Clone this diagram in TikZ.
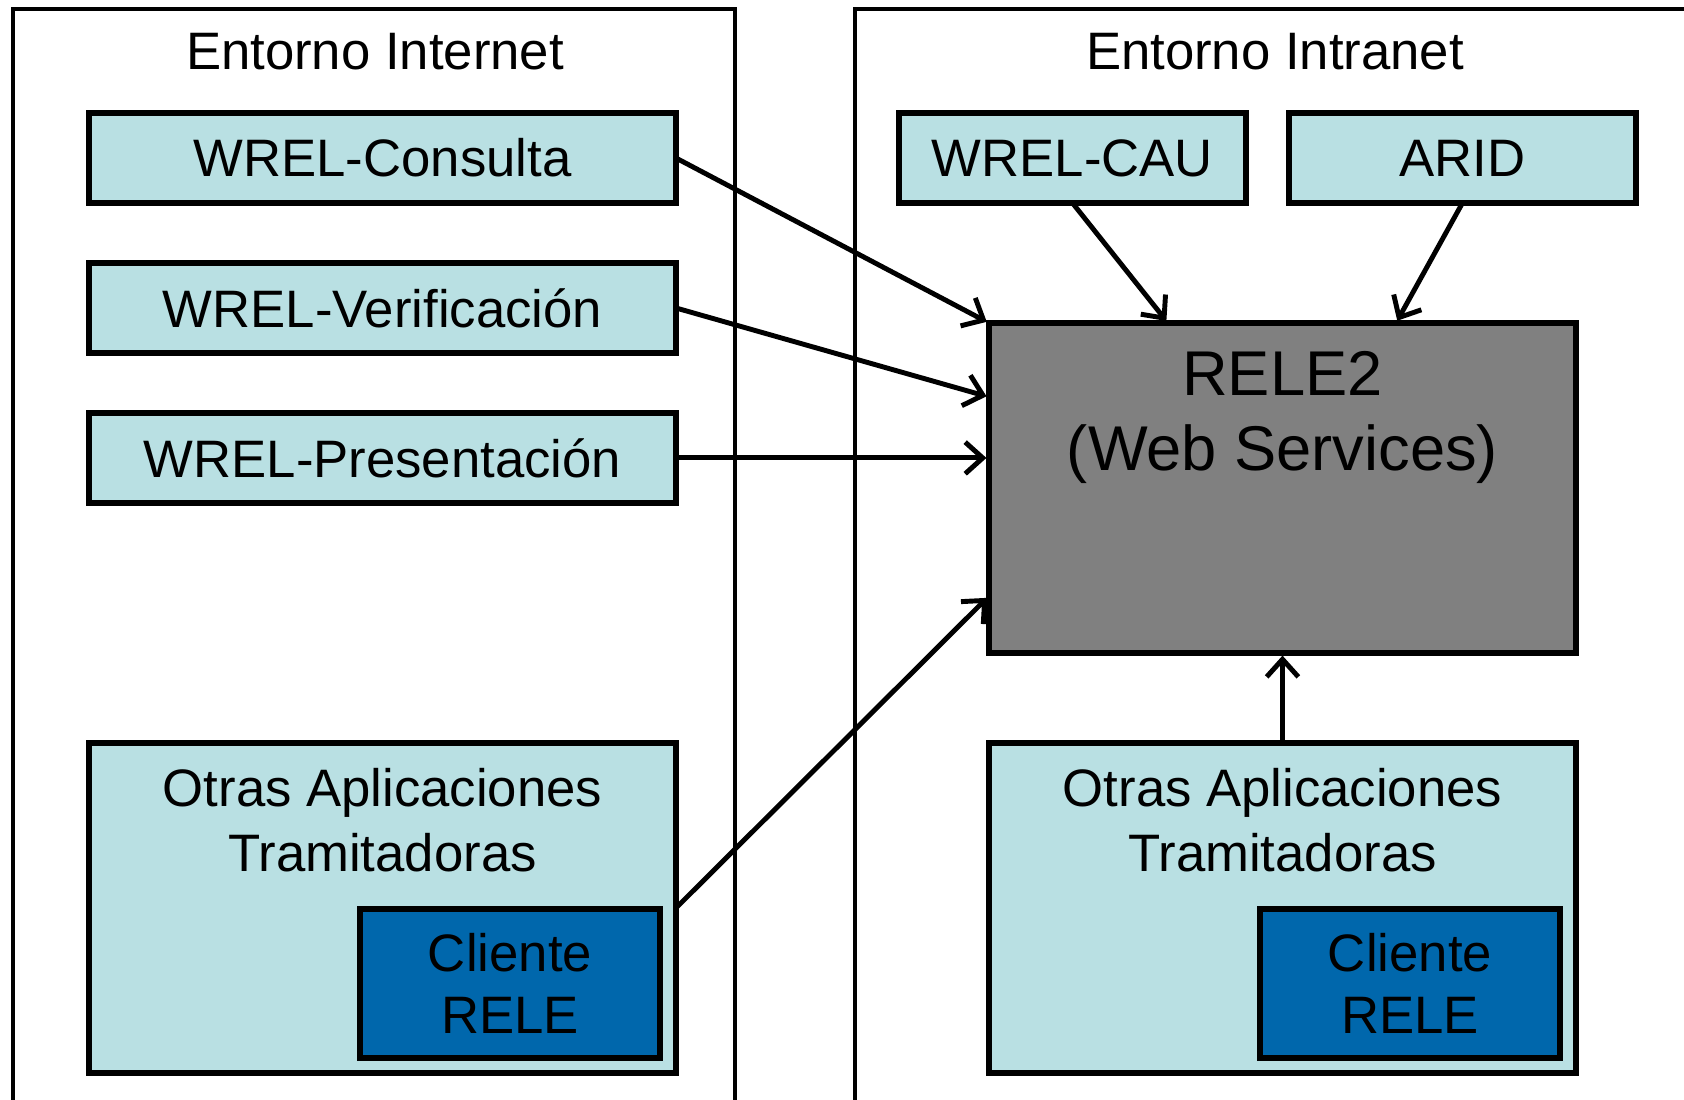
\documentclass[tikz,border=0pt]{standalone}
\usepackage{fontspec}
\setmainfont{Liberation Sans}
\usetikzlibrary{positioning}
\usetikzlibrary{arrows.meta}
\definecolor{lightblue}{RGB}{185,224,227}
\definecolor{darkblue}{RGB}{0,103,172}
\definecolor{grey}{RGB}{128,128,128}

\tikzset{
  box/.style={draw, line width=3pt, fill=lightblue, inner sep=0pt, outer sep=0pt, align=center, font=\fontsize{30}{37}\selectfont},
  wide/.style={box, minimum width=11.74cm, minimum height=1.8cm},
  small/.style={box, minimum width=6.94cm, minimum height=1.8cm},
  big/.style={box, minimum width=11.74cm, minimum height=6.6cm},
  client/.style={box, fill=darkblue, minimum width=6cm, minimum height=2.98cm, font=\fontsize{30}{35}\selectfont},
  caption/.style={inner sep=0pt, align=center, font=\fontsize{30}{37}\selectfont},
  link/.style={->, line width=2.8pt, shorten >=1.5pt},
  frame/.style={line width=2.8pt},
}

\begin{document}
\begin{tikzpicture}[x=0.02cm, y=-0.02cm, >={Straight Barb[length=10pt,width=18pt]}]
        \clip (0,0) rectangle (1684,1099);
        % frames %
        \draw[frame] (13,1110) -- (13,9) -- (735,9) -- (735,1110);
        \draw[frame] (855,1110) -- (855,9) -- (1700,9);
        \node[caption] (internet) at (375,52) {Entorno Internet};
        \node[caption] (intranet) at (1275,52) {Entorno Intranet};
        % nodes %
        \node[wide] (consulta) at (382.5,158) {WREL-Consulta};
        \node[wide, below=1.2cm of consulta] (verif) {WREL-Verificación};
        \node[wide, below=1.2cm of verif] (present) {WREL-Presentación};
        \node[big] (otrasL) at (382.5,908) {};
        \node[caption, below=0.5cm of otrasL.north] (otrasLtxt) {Otras Aplicaciones\\Tramitadoras};
        \node[client] (clienteL) at (510,983.5) {Cliente\\RELE};
        \node[small] (cau) at (1072.5,158) {WREL-CAU};
        \node[small, right=0.86cm of cau] (arid) {ARID};
        \node[big, fill=grey] (rele) at (1282.5,488) {};
        \node[caption, below=0.55cm of rele.north, font=\fontsize{36}{43}\selectfont] (reletxt) {RELE2\\(Web Services)};
        \node[big, below=1.8cm of rele] (otrasR) {};
        \node[caption, below=0.5cm of otrasR.north] (otrasRtxt) {Otras Aplicaciones\\Tramitadoras};
        \node[client] (clienteR) at (1410,983.5) {Cliente\\RELE};
        % edges %
        \draw[link] (consulta.east) -- (rele.north west);
        \draw[link] (verif.east) -- ([yshift=-1.48cm]rele.north west);
        \draw[link] (present.east) -- (present.east -| rele.west);
        \draw[link] (otrasL.east) -- ([yshift=1.14cm]rele.south west);
        \draw[link] (cau.south) -- ([xshift=3.58cm]rele.north west);
        \draw[link] (arid.south) -- ([xshift=-3.6cm]rele.north east);
        \draw[link] (otrasR.north) -- (rele.south);
\end{tikzpicture}
\end{document}
